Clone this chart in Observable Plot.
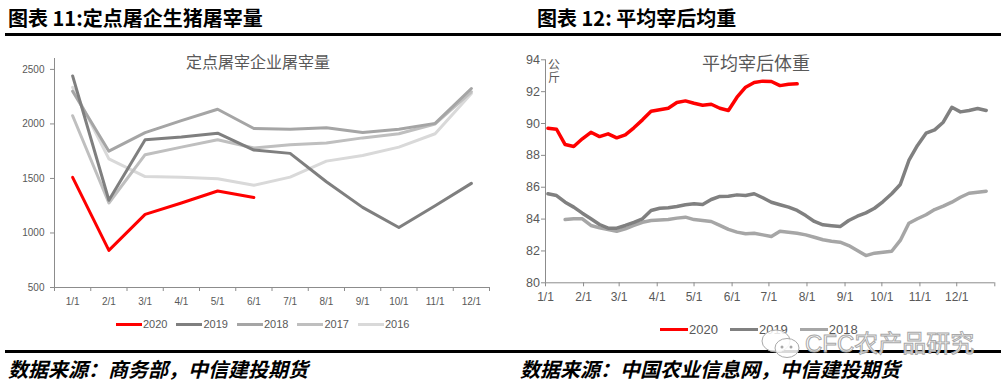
<!DOCTYPE html>
<html><head><meta charset="utf-8">
<script src="https://cdn.jsdelivr.net/npm/d3@7"></script>
<script src="https://cdn.jsdelivr.net/npm/@observablehq/plot@0.6"></script>
<style>
body{margin:0;background:#fff;}
#root{position:relative;width:1007px;height:388px;overflow:hidden;background:#fff;font-family:"Noto Sans CJK SC","Noto Sans",sans-serif;}
.abs{position:absolute;}
.hdr{font-weight:bold;font-size:20px;color:#000;line-height:20px;white-space:nowrap;}
.rule{background:#000;height:3px;}
.cap{font-weight:bold;font-style:italic;font-size:20px;color:#000;white-space:nowrap;line-height:20px;}
.ctitle{color:#595959;white-space:nowrap;line-height:1;transform:translateX(-50%);}
.leg{display:flex;align-items:center;white-space:nowrap;font-family:"Liberation Sans",Arial,sans-serif;color:#595959;}
.leg .sw{display:inline-block;height:3px;}
.wm{font-family:"Liberation Sans","Noto Sans CJK SC",sans-serif;font-size:24px;color:rgba(255,255,255,0.85);-webkit-text-stroke:1px #a8a8a8;white-space:nowrap;line-height:1;}
</style></head>
<body><div id="root"></div>
<script>
// ---------- data ----------
const months = ["1/1","2/1","3/1","4/1","5/1","6/1","7/1","8/1","9/1","10/1","11/1","12/1"];
const leftYears = ["2016","2017","2018","2019","2020"];
const leftColors = ["#d9d9d9","#bfbfbf","#a5a5a5","#7f7f7f","#ff0000"];
const slaughter2020 = [1510, 840, 1170, 1275, 1385, 1325];
const slaughter2019 = [2440, 1300, 1855, 1880, 1915, 1760, 1730, 1470, 1235, 1050, 1250, 1455];
const slaughter2018 = [2300, 1750, 1920, 2030, 2135, 1958, 1952, 1965, 1922, 1952, 2005, 2325];
const slaughter2017 = [2075, 1275, 1718, 1787, 1855, 1780, 1808, 1826, 1872, 1910, 2000, 2295];
const slaughter2016 = [2335, 1680, 1517, 1510, 1497, 1438, 1512, 1659, 1711, 1787, 1910, 2278];
const leftYTicks = [500, 1000, 1500, 2000, 2500];

const rightYears = ["2018","2019","2020"];
const rightColors = ["#a6a6a6","#808080","#ff0000"];
const start2020 = "2020-01-03";
const start2019 = "2020-01-03";
const start2018 = "2020-01-17";
const weight2020 = [89.70,89.64,88.68,88.56,89.04,89.45,89.18,89.35,89.10,89.29,89.73,90.23,90.77,90.86,90.96,91.32,91.42,91.27,91.15,91.21,90.96,90.82,91.65,92.28,92.57,92.66,92.64,92.38,92.47,92.49];
const weight2019 = [85.59,85.48,85.06,84.75,84.37,84.02,83.66,83.43,83.43,83.60,83.80,84.02,84.54,84.68,84.71,84.79,84.90,84.96,84.92,85.23,85.42,85.44,85.52,85.48,85.59,85.34,85.06,84.90,84.75,84.54,84.22,83.85,83.64,83.58,83.53,83.91,84.18,84.39,84.68,85.10,85.59,86.17,87.68,88.62,89.39,89.60,90.08,91.02,90.73,90.82,90.94,90.82];
const weight2018 = [83.97,84.02,84.02,83.60,83.45,83.35,83.24,83.39,83.60,83.80,83.91,83.95,83.97,84.06,84.12,83.97,83.91,83.85,83.60,83.35,83.18,83.08,83.11,83.01,82.91,83.24,83.18,83.11,83.01,82.86,82.70,82.61,82.55,82.34,82.03,81.71,81.86,81.92,81.98,82.66,83.74,84.02,84.27,84.60,84.81,85.06,85.37,85.62,85.69,85.75];
const rightYTicks = [80, 82, 84, 86, 88, 90, 92, 94];

// ---------- tables ----------
const leftSeries = {"2016": slaughter2016, "2017": slaughter2017, "2018": slaughter2018, "2019": slaughter2019, "2020": slaughter2020};
const leftRows = leftYears.flatMap(y => leftSeries[y].map((v, i) => ({year: y, x: i + 1, v})));
const DAY = 864e5;
const rightSeries = [["2018", start2018, weight2018], ["2019", start2019, weight2019], ["2020", start2020, weight2020]];
const rightRows = rightSeries.flatMap(([y, s, arr]) => arr.map((v, i) => ({year: y, date: new Date(Date.parse(s + "T00:00:00Z") + i * 7 * DAY), v})));

const root = document.getElementById("root");
function add(html){ root.insertAdjacentHTML("beforeend", html); }

// headers & rules
add('<div class="abs hdr" style="left:8px;top:8px;">图表 11:定点屠企生猪屠宰量</div>');
add('<div class="abs hdr" style="left:537px;top:8px;">图表 12: 平均宰后均重</div>');
add('<div class="abs rule" style="left:5px;width:996px;top:33px;"></div>');
add('<div class="abs rule" style="left:5px;width:996px;top:350px;"></div>');
add('<div class="abs cap" style="left:8px;top:359px;">数据来源：商务部，中信建投期货</div>');
add('<div class="abs cap" style="left:520px;top:359px;">数据来源：中国农业信息网，中信建投期货</div>');

// left chart
const left = Plot.plot({
  width: 500, height: 272,
  marginLeft: 54, marginRight: 11, marginTop: 18, marginBottom: 25,
  x: {domain: [0.5, 12.5], label: null},
  y: {domain: [500, 2600], label: null},
  color: {domain: leftYears, range: leftColors},
  style: {fontFamily: "Liberation Sans, Arial, sans-serif", fontSize: "10px", color: "#595959", background: "transparent", overflow: "visible"},
  marks: [
    Plot.ruleX([0.5], {stroke: "#8c8c8c"}),
    Plot.ruleY([500], {stroke: "#8c8c8c"}),
    Plot.axisY({ticks: leftYTicks, tickSize: 4, tickPadding: 6, tickFormat: d => String(d), stroke: "#8c8c8c", fill: "#595959", label: null}),
    Plot.axisX({ticks: months.map((_, i) => i + 0.5).concat([12.5]), tickSize: 4, tickFormat: () => "", stroke: "#8c8c8c", label: null}),
    Plot.axisX({ticks: months.map((_, i) => i + 1), tickSize: 0, tickPadding: 10, tickFormat: d => months[d - 1], fill: "#595959", label: null}),
    Plot.line(leftRows, {x: "x", y: "v", z: "year", stroke: "year", strokeWidth: 3})
  ]
});
left.style.position = "absolute"; left.style.left = "0px"; left.style.top = "40px";
root.appendChild(left);

// right chart
const xStart = new Date(Date.UTC(2020, 0, 1)), xEnd = new Date(Date.UTC(2021, 0, 1));
const monthStarts = months.map((_, i) => new Date(Date.UTC(2020, i, 1)));
const right = Plot.plot({
  width: 507, height: 272,
  marginLeft: 45, marginRight: 12.7, marginTop: 19.3, marginBottom: 29.7,
  x: {type: "utc", domain: [xStart, xEnd], label: null},
  y: {domain: [80, 94], label: null},
  color: {domain: rightYears, range: rightColors},
  style: {fontFamily: "Liberation Sans, Arial, sans-serif", fontSize: "12.5px", color: "#595959", background: "transparent", overflow: "visible"},
  marks: [
    Plot.ruleX([xStart], {stroke: "#8c8c8c"}),
    Plot.ruleY([80], {stroke: "#8c8c8c"}),
    Plot.axisY({ticks: rightYTicks, tickSize: 4, tickPadding: 1.5, stroke: "#8c8c8c", fill: "#595959", label: null}),
    Plot.axisX({ticks: monthStarts.concat([xEnd]), tickSize: 4, tickPadding: 5.5, fontSize: 12, tickFormat: d => d.getUTCFullYear() === 2021 ? "" : months[d.getUTCMonth()], stroke: "#8c8c8c", fill: "#595959", label: null}),
    Plot.line(rightRows, {x: "date", y: "v", z: "year", stroke: "year", strokeWidth: 3.5})
  ]
});
right.style.position = "absolute"; right.style.left = "500px"; right.style.top = "40px";
root.appendChild(right);

// chart titles & unit
add('<div class="abs ctitle" style="left:258px;top:53px;font-size:16px;">定点屠宰企业屠宰量</div>');
add('<div class="abs ctitle" style="left:756px;top:53px;font-size:18px;">平均宰后体重</div>');
add('<div class="abs" style="left:548px;top:57px;font-size:12px;line-height:13px;color:#595959;">公<br>斤</div>');

// legends
function legend(years, colors, x, y, sw, fs, gap){
  const items = years.map((yr, i) => `<span style="display:inline-flex;align-items:center;margin-right:${gap}px;"><span class="sw" style="width:${sw}px;background:${colors[i]};"></span><span style="font-size:${fs}px;margin-left:1px;">${yr}</span></span>`).join("");
  add(`<div class="abs leg" style="left:${x}px;top:${y}px;">${items}</div>`);
}
legend(leftYears.slice().reverse(), leftColors.slice().reverse(), 116, 318, 26, 11, 9);
legend(rightYears.slice().reverse(), rightColors.slice().reverse(), 660, 322, 28, 13, 12);

// watermark
add('<svg class="abs" style="left:760px;top:327px;" width="44" height="34"><ellipse cx="16" cy="14" rx="14" ry="11" fill="rgba(255,255,255,0.85)" stroke="#a8a8a8"/><ellipse cx="27" cy="21" rx="12" ry="9.5" fill="rgba(255,255,255,0.85)" stroke="#a8a8a8"/><circle cx="22" cy="20" r="1.5" fill="#a8a8a8"/><circle cx="31" cy="20" r="1.5" fill="#a8a8a8"/></svg>');
add('<div class="abs wm" style="left:805px;top:332px;">CFC农产品研究</div>');
</script>
</body></html>
